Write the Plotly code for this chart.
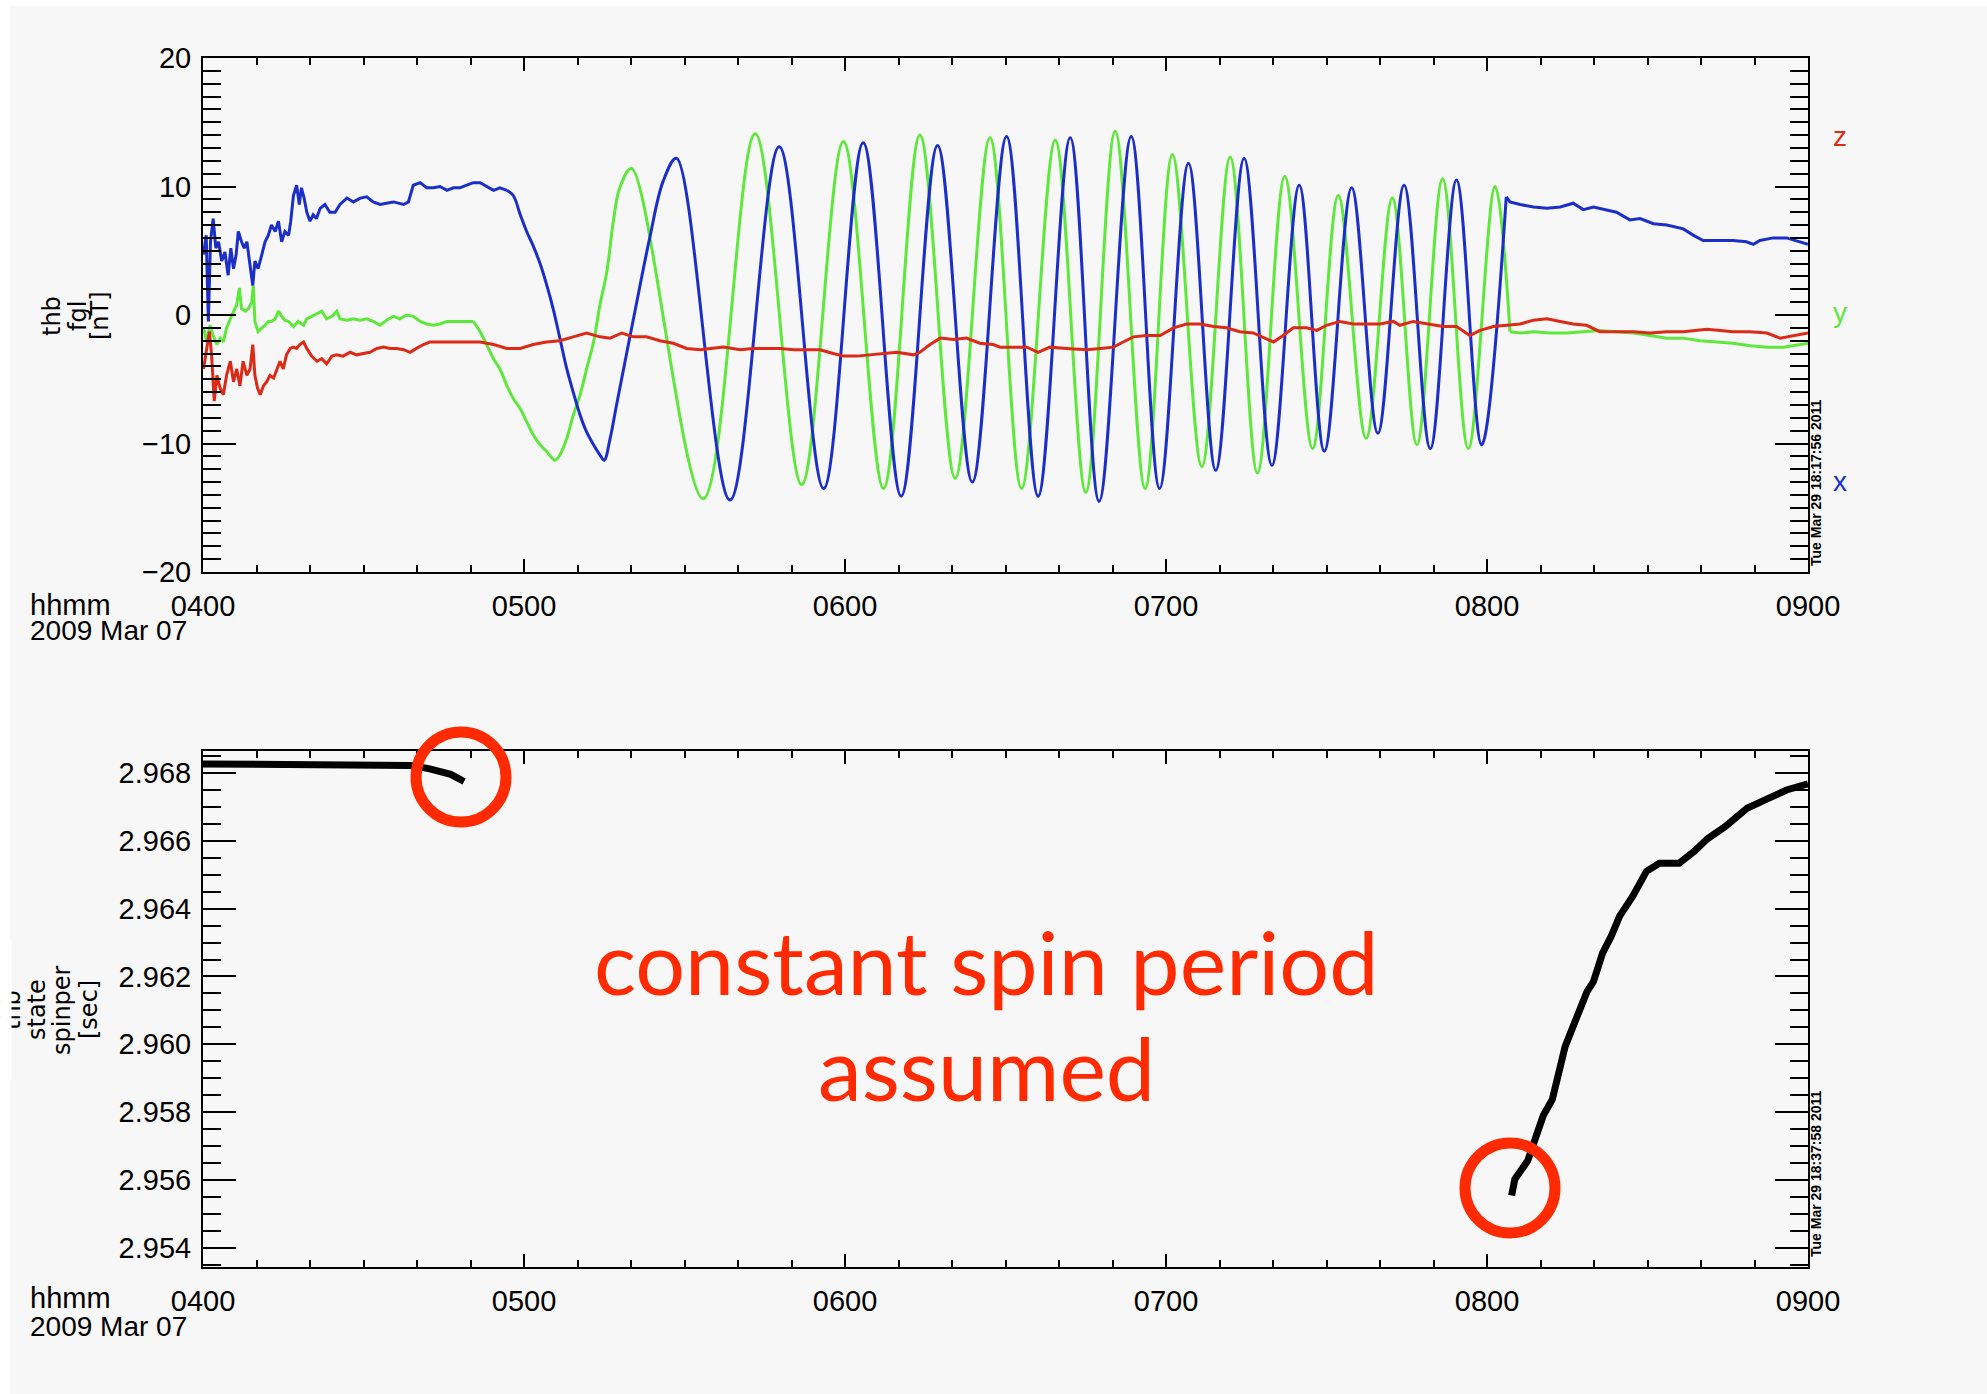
import plotly.graph_objects as go

# ---------------- axis / label data ----------------
TICK_MIN = [0, 60, 120, 180, 240, 300]          # minutes after 04:00
TICK_TXT = ["0400", "0500", "0600", "0700", "0800", "0900"]
FGL_TICKS = [-20, -10, 0, 10, 20]
SPIN_TICKS = [2.954, 2.956, 2.958, 2.960, 2.962, 2.964, 2.966, 2.968]
DATE_TXT = "2009 Mar 07"

# ---------------- thb fgl, x component (blue) ----------------
BX_EARLY = [(0.1,4.7),(0.6,6.2),(1.0,-0.5),(1.4,5.7),(1.9,7.5),(2.4,5.2),(2.9,5.7),(3.5,4.2),
            (4.1,4.9),(4.7,3.1),(5.2,5.2),(5.7,3.6),(6.2,4.7),(6.6,6.5),(7.2,5.7),(7.7,5.2),
            (8.2,5.7),(8.8,3.9),(9.3,2.3),(9.7,4.2),(10.3,3.6),(11.0,4.7),(11.6,5.7),(12.2,6.2),
            (12.8,7.0),(13.5,6.5),(14.1,7.3),(14.7,5.7),(15.3,6.5),(16.0,6.2),(16.4,7.3),(16.9,9.3),
            (17.5,10.1),(18.0,8.6),(18.4,9.9),(18.9,9.1),(19.4,8.0),(20.0,7.3),(20.6,7.8),(21.2,7.5),
            (21.9,8.3),(22.8,8.6),(23.7,8.0),(24.7,8.0),(25.6,8.6),(26.9,9.1),(28.1,8.8),(29.4,9.1),
            (30.6,9.2),(31.8,8.8),(33.1,8.6),(34.3,8.7),(35.6,8.8),(37.5,8.6),(38.4,8.8),(39.3,10.1),
            (40.6,10.3),(41.8,9.9),(43.1,9.9),(44.3,10.0),(45.6,9.7),(46.8,9.9),(48.0,9.9),(49.3,10.1),
            (50.5,10.3),(51.8,10.3),(53.0,10.0),(54.3,9.7),(55.5,9.9),(56.8,9.7)]
BX_WAVE = [(56.8,9.7),(58.0,9.3),(59.3,7.8),(60.5,6.5),(61.7,5.4),(63.0,4.0),(64.2,2.4),(65.5,0.4),
           (66.7,-1.8),(68.0,-4.2),(69.2,-6.0),(70.5,-7.8),(71.7,-9.1),(73.0,-10.1),(74.2,-10.9),
           (75.0,-11.3),(76.1,-9.6),(77.3,-7.0),(80.6,0.0),(83.5,6.0),(86.0,10.4),
           (88.5,12.2),(98.5,-14.4),(107.7,13.1),(116.0,-13.5),(123.4,13.4),(130.5,-14.1),
           (137.3,13.2),(143.8,-13.0),(150.2,13.9),(156.1,-14.1),(162.1,13.8),(167.5,-14.5),
           (173.5,13.9),(178.8,-13.5),(184.2,11.8),(189.3,-12.1),(194.6,12.2),(199.8,-11.7),
           (204.9,10.1),(209.6,-10.6),(214.7,9.9),(219.6,-9.2),(224.5,10.1),(229.4,-10.4),
           (234.3,10.5),(239.0,-10.1),(243.6,9.2)]
BX_LATE = [(243.6,9.2),(244.3,8.8),(246.2,8.6),(248.7,8.4),(251.2,8.3),(253.7,8.4),(256.1,8.7),
           (258.0,8.2),(259.9,8.4),(261.8,8.2),(264.2,8.0),(266.7,7.4),(268.6,7.5),(271.1,7.1),
           (273.6,7.0),(276.7,6.7),(278.6,6.2),(280.4,5.8),(282.9,5.8),(286.0,5.8),(288.5,5.7),
           (289.8,5.5),(291.0,5.8),(293.5,6.0),(296.0,6.0),(298.5,5.7),(300.0,5.5)]

# ---------------- thb fgl, y component (green) ----------------
BY_EARLY = [(0.1,-1.0),(0.7,-2.1),(1.3,-0.8),(1.9,-1.6),(2.6,-2.3),(3.2,-1.8),(3.8,-2.1),(4.4,-1.0),
            (5.1,-0.3),(5.7,0.3),(6.3,0.8),(6.8,2.1),(7.2,0.5),(7.9,0.3),(8.5,0.5),(9.1,1.0),
            (9.4,2.3),(9.7,-0.5),(10.3,-1.3),(11.0,-1.0),(11.6,-0.8),(12.2,-0.5),(12.8,-0.5),
            (13.5,-0.3),(14.1,0.3),(14.7,-0.1),(15.3,-0.4),(16.0,-0.5),(16.9,-0.9),(17.8,-0.5),
            (18.8,-0.8),(19.4,-0.3),(20.3,-0.1),(21.3,0.1),(22.2,0.3),(23.1,-0.3),(24.1,-0.1),
            (25.0,0.3),(25.6,-0.3),(26.9,-0.4),(28.1,-0.3),(29.4,-0.4),(30.6,-0.3),(31.8,-0.5),
            (33.1,-0.8),(34.3,-0.4),(35.6,-0.1),(36.8,-0.3),(38.1,0.0),(39.3,-0.1),(40.6,-0.5),
            (41.8,-0.7),(43.1,-0.8),(44.3,-0.7),(45.6,-0.5),(46.8,-0.5),(48.0,-0.5),(49.3,-0.5),
            (50.5,-0.5)]
BY_WAVE = [(50.5,-0.5),(51.8,-1.3),(53.0,-2.3),(54.3,-3.4),(55.5,-4.2),(56.8,-5.5),(58.0,-6.5),
           (59.3,-7.3),(60.5,-8.3),(61.7,-9.3),(63.0,-10.1),(64.2,-10.6),(65.8,-11.3),(66.7,-10.9),
           (68.0,-9.6),(69.2,-7.8),(70.5,-6.2),(71.7,-4.2),(73.0,-2.1),(74.2,0.8),(75.5,3.4),
           (76.7,7.3),(77.9,9.9),(80.1,11.4),(93.5,-14.3),(103.2,14.1),(111.9,-13.2),(119.7,13.5),
           (127.2,-13.5),(134.0,14.0),(140.6,-12.7),(147.1,13.8),(153.0,-13.5),(159.3,13.6),
           (165.0,-13.8),(170.5,14.3),(176.1,-13.5),(181.2,12.5),(186.7,-11.8),(192.0,12.3),
           (197.1,-12.3),(202.2,10.8),(207.4,-10.4),(212.2,9.3),(217.4,-9.6),(222.3,9.1),
           (226.9,-10.1),(231.7,10.6),(236.5,-10.4),(241.5,10.0),(244.3,-1.3)]
BY_LATE = [(244.3,-1.3),(246.2,-1.4),(248.7,-1.3),(251.8,-1.4),(254.9,-1.4),(258.0,-1.3),
           (261.1,-1.2),(264.2,-1.3),(267.4,-1.4),(270.5,-1.6),(273.6,-1.8),(276.7,-1.8),
           (279.8,-2.0),(282.9,-2.1),(286.0,-2.2),(289.2,-2.4),(292.3,-2.5),(295.4,-2.5),
           (298.5,-2.3),(300.0,-2.2)]

# ---------------- thb fgl, z component (red) ----------------
BZ = [(0.1,-4.2),(0.7,-2.6),(1.2,-1.3),(1.6,-3.1),(2.1,-6.7),(2.6,-4.7),(3.2,-5.7),(3.8,-6.2),
      (4.4,-4.7),(5.1,-3.6),(5.7,-5.2),(6.3,-4.2),(6.9,-5.5),(7.5,-3.6),(8.2,-4.7),(8.8,-4.2),
      (9.3,-2.3),(9.7,-4.7),(10.2,-5.7),(10.7,-6.2),(11.3,-5.5),(11.9,-5.2),(12.5,-4.7),
      (13.2,-4.9),(13.8,-4.2),(14.4,-3.6),(15.0,-4.2),(15.6,-3.1),(16.3,-2.6),(16.9,-2.5),
      (17.5,-2.6),(18.1,-2.3),(18.8,-2.1),(19.4,-2.6),(20.3,-3.2),(21.3,-3.6),(22.2,-3.4),
      (23.1,-3.8),(24.1,-3.2),(25.0,-3.1),(26.2,-3.2),(27.5,-2.9),(28.7,-3.1),(30.0,-3.0),
      (31.2,-2.9),(32.5,-2.6),(33.7,-2.5),(35.0,-2.6),(36.2,-2.6),(37.5,-2.7),(38.7,-2.9),
      (39.9,-2.6),(41.2,-2.3),(42.4,-2.1),(44.3,-2.1),(46.8,-2.1),(49.3,-2.1),(51.8,-2.1),
      (54.3,-2.3),(56.8,-2.6),(59.3,-2.6),(61.7,-2.3),(64.2,-2.1),(66.7,-2.0),(69.2,-1.7),
      (71.7,-1.4),(74.2,-1.7),(76.1,-1.8),(78.3,-1.4),(80.4,-1.7),(82.9,-1.7),(85.4,-2.0),
      (87.9,-2.2),(90.4,-2.6),(92.9,-2.7),(94.8,-2.6),(97.3,-2.5),(100.4,-2.7),(102.9,-2.6),
      (105.4,-2.6),(107.9,-2.6),(110.4,-2.7),(112.8,-2.7),(115.3,-2.7),(117.8,-3.0),(119.7,-3.2),
      (122.2,-3.2),(124.7,-3.1),(127.2,-3.0),(129.7,-2.9),(132.8,-3.1),(134.0,-2.9),(135.9,-2.3),
      (137.8,-1.8),(140.3,-1.9),(142.7,-1.8),(145.2,-2.2),(147.7,-2.3),(149.0,-2.5),(151.5,-2.5),
      (154.0,-2.5),(156.1,-2.9),(158.3,-2.5),(161.4,-2.6),(165.2,-2.7),(167.7,-2.6),(170.2,-2.5),
      (172.0,-2.1),(173.9,-1.7),(176.4,-1.6),(178.9,-1.6),(181.4,-1.0),(183.9,-0.7),(186.4,-0.7),
      (188.9,-0.9),(191.3,-1.0),(193.8,-1.3),(196.3,-1.4),(198.8,-1.9),(200.1,-2.1),(201.9,-1.6),
      (203.8,-1.0),(206.3,-1.0),(208.2,-1.2),(210.0,-0.8),(212.5,-0.5),(215.0,-0.7),(217.5,-0.7),
      (220.0,-0.7),(222.5,-0.5),(223.7,-0.8),(226.2,-0.5),(228.7,-0.7),(231.8,-0.9),(234.3,-0.9),
      (236.8,-1.6),(238.7,-1.2),(241.2,-0.9),(243.7,-0.8),(246.2,-0.7),(248.7,-0.4),(251.2,-0.3),
      (253.7,-0.5),(256.1,-0.7),(258.6,-0.8),(261.1,-1.3),(264.2,-1.3),(267.4,-1.3),(270.5,-1.4),
      (273.6,-1.3),(276.7,-1.3),(278.6,-1.2),(281.1,-1.1),(283.6,-1.2),(286.0,-1.3),(289.2,-1.3),
      (292.3,-1.4),(294.8,-1.8),(297.3,-1.6),(300.0,-1.4)]

# ---------------- thb state spinper ----------------
SPIN_PRE = [(0.0,2.96827),(36.0,2.96827),(38.8,2.96822),(42.2,2.96813),(44.7,2.96804),
            (46.3,2.96796),(48.8,2.96775)]
SPIN_POST = [(244.6,2.95554),(245.2,2.95602),(247.6,2.95656),(249.3,2.95728),(250.5,2.95789),
             (252.2,2.95837),(253.4,2.95909),(254.6,2.95993),(255.8,2.96041),(257.1,2.96089),
             (258.7,2.96155),(259.9,2.96185),(261.6,2.96269),(263.2,2.96318),(264.8,2.96378),
             (267.3,2.96438),(269.8,2.96510),(272.2,2.96534),(275.9,2.96534),(278.8,2.96570),
             (281.2,2.96606),(284.5,2.96642),(288.6,2.96696),(292.7,2.96726),(296.0,2.96750),
             (300.0,2.96768)]

BLUE = "#1b2fc8"
GREEN = "#5fe83c"
RED = "#dc2a16"
ANN_RED = "#ff2a00"
BG = "#f7f7f7"
FONT = "Liberation Sans"
TITLE_FONT = "DejaVu Sans"

W, H = 1987, 1394
def px(x):
    return x / W
def py(y):
    return 1 - y / H


def line_trace(pairs, color, xa, ya, width=3, shape="linear"):
    t, v = zip(*pairs)
    return go.Scatter(x=list(t), y=list(v), mode="lines", xaxis=xa, yaxis=ya,
                      line=dict(color=color, width=width, shape=shape, smoothing=1.0),
                      showlegend=False, hoverinfo="skip")


fig = go.Figure()
fig.add_trace(line_trace(BY_EARLY, GREEN, "x", "y"))
fig.add_trace(line_trace(BY_WAVE, GREEN, "x", "y", shape="spline"))
fig.add_trace(line_trace(BY_LATE, GREEN, "x", "y"))
fig.add_trace(line_trace(BX_EARLY, BLUE, "x", "y"))
fig.add_trace(line_trace(BX_WAVE, BLUE, "x", "y", shape="spline"))
fig.add_trace(line_trace(BX_LATE, BLUE, "x", "y"))
fig.add_trace(line_trace(BZ, RED, "x", "y"))
fig.add_trace(line_trace(SPIN_PRE, "black", "x2", "y2", width=7))
fig.add_trace(line_trace(SPIN_POST, "black", "x2", "y2", width=7))

tickfont = dict(family=FONT, size=29, color="black")
common_x = dict(range=[0, 300], tickmode="array", tickvals=TICK_MIN, ticktext=TICK_TXT,
                ticks="inside", ticklen=13, tickwidth=2, tickcolor="black",
                minor=dict(tickmode="linear", tick0=0, dtick=10, ticks="inside",
                           ticklen=7, tickwidth=2, tickcolor="black"),
                showline=True, linewidth=2, linecolor="black", mirror="ticks",
                showgrid=False, zeroline=False, tickfont=tickfont, automargin=False,
                ticklabelstandoff=7, domain=[px(203), px(1808)])

fig.update_layout(
    width=W, height=H, autosize=False,
    margin=dict(l=0, r=0, t=0, b=0, pad=0),
    paper_bgcolor="white", plot_bgcolor=BG,
    font=dict(family=FONT, color="black"),
    xaxis=dict(**common_x, anchor="y"),
    xaxis2=dict(**common_x, anchor="y2"),
    yaxis=dict(range=[-20, 20], tickmode="array", tickvals=FGL_TICKS,
               ticktext=[str(v).replace("-", "\u2212") for v in FGL_TICKS],
               ticks="inside", ticklen=33, tickwidth=2, tickcolor="black",
               minor=dict(tickmode="linear", tick0=0, dtick=1, ticks="inside",
                          ticklen=18, tickwidth=2, tickcolor="black"),
               showline=True, linewidth=2, linecolor="black", mirror="ticks",
               showgrid=False, zeroline=False, tickfont=tickfont, ticklabelstandoff=4,
               automargin=False, domain=[py(572), py(58)], anchor="x"),
    yaxis2=dict(range=[2.95343, 2.96865], tickmode="array", tickvals=SPIN_TICKS,
                ticktext=["%.3f" % v for v in SPIN_TICKS],
                ticks="inside", ticklen=33, tickwidth=2, tickcolor="black",
                minor=dict(tickmode="linear", tick0=2.954, dtick=0.0005, ticks="inside",
                           ticklen=18, tickwidth=2, tickcolor="black"),
                showline=True, linewidth=2, linecolor="black", mirror="ticks",
                showgrid=False, zeroline=False, tickfont=tickfont, ticklabelstandoff=4,
                automargin=False, domain=[py(1267), py(751)], anchor="x2"),
)

# gray slide background with thin white border on left/top
fig.add_shape(type="rect", xref="paper", yref="paper", x0=px(10), x1=1, y0=0, y1=py(6),
              fillcolor=BG, line=dict(width=0), layer="below")

# red circles
for cx, cy in [(461, 777), (1510, 1188)]:
    fig.add_shape(type="circle", xref="paper", yref="paper", xsizemode="pixel", ysizemode="pixel",
                  xanchor=px(cx), yanchor=py(cy), x0=-45, x1=45, y0=-45, y1=45,
                  line=dict(color=ANN_RED, width=11), layer="above")

anns = []
def ann(text, x, y, size=29, color="black", angle=0, xanchor="center", family=FONT, **kw):
    anns.append(dict(text=text, x=x, y=y, xref="paper", yref="paper", showarrow=False,
                     textangle=angle, xanchor=xanchor, yanchor="middle",
                     font=dict(family=family, size=size, color=color), **kw))

# time labels
for yy_h, yy_d in [(605, 630), (1298, 1326)]:
    ann("hhmm", px(28), py(yy_h), xanchor="left")
    ann(DATE_TXT, px(28), py(yy_d), xanchor="left", size=28)

# y titles
for txt, xx in [("thb", 52), ("fgl", 78), ("[nT]", 100)]:
    ann(txt, px(xx), py(316), size=24, angle=-90, family=TITLE_FONT)
for txt, xx in [("thb", 12), ("state", 37), ("spinper", 62), ("[sec]", 89)]:
    ann(txt, px(xx), py(1010), size=24, angle=-90, family=TITLE_FONT)
# white border strip covering the clipped first title line
anns.append(dict(text=" ", x=0, y=py(1010), xref="paper", yref="paper", showarrow=False,
                 xanchor="left", yanchor="middle", width=10, height=140, bgcolor="white",
                 borderpad=0, font=dict(size=10)))

# component labels
ann("z", px(1840), py(137), size=28, color=RED)
ann("y", px(1840), py(312), size=28, color=GREEN)
ann("x", px(1840), py(482), size=28, color=BLUE)

# timestamps
ann("<b>Tue Mar 29 18:17:56 2011</b>", px(1816), py(483), size=14, angle=-90)
ann("<b>Tue Mar 29 18:37:58 2011</b>", px(1816), py(1174), size=14, angle=-90)

# red slide text
ann("constant spin period", px(986), py(961), size=88, color=ANN_RED, family="Lato")
ann("assumed", px(986), py(1067), size=88, color=ANN_RED, family="Lato")

fig.update_layout(annotations=anns)
fig.write_html("out.html")
